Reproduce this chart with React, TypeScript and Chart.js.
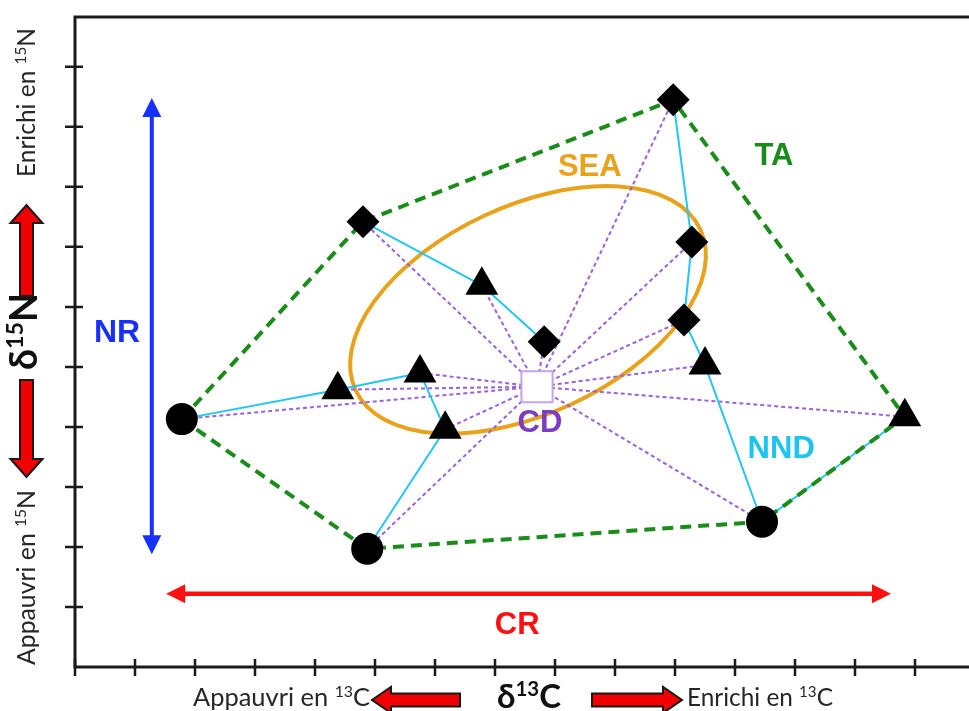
import React, { useEffect, useRef } from 'react';
import { Chart, registerables } from 'chart.js';

Chart.register(...registerables);

type P = { x: number; y: number };

// ---------- data (δ13C units on x, δ15N units on y) ----------
const circlePoints: P[] = [
  { x: 1.78, y: 4.13 },
  { x: 4.87, y: 1.97 },
  { x: 11.45, y: 2.42 },
];
const diamondPoints: P[] = [
  { x: 4.8, y: 7.42 },
  { x: 9.97, y: 9.45 },
  { x: 10.28, y: 7.08 },
  { x: 10.15, y: 5.78 },
  { x: 7.82, y: 5.42 },
];
const trianglePoints: P[] = [
  { x: 6.78, y: 6.36 },
  { x: 4.38, y: 4.62 },
  { x: 5.75, y: 4.9 },
  { x: 6.17, y: 3.96 },
  { x: 10.5, y: 5.03 },
  { x: 13.83, y: 4.17 },
];
const centroidPoint: P = { x: 7.7, y: 4.67 };

const xTickValues = [0, 1, 2, 3, 4, 5, 6, 7, 8, 9, 10, 11, 12, 13, 14];
const yTickValues = [1, 2, 3, 4, 5, 6, 7, 8, 9, 10];
const xMax = 14.9;
const yMax = 10.83;

// convex hull (TA) and nearest-neighbour links (NND)
const hullPath = ['C1', 'D1', 'D2', 'T6', 'C3', 'C2', 'C1'];
const nndLinks: [string, string][] = [
  ['C1', 'T2'], ['T2', 'T3'], ['T3', 'T4'], ['T4', 'C2'],
  ['D1', 'T1'], ['T1', 'D5'],
  ['D2', 'D3'], ['D3', 'D4'], ['D4', 'T5'], ['T5', 'C3'], ['C3', 'T6'],
];

// SEA ellipse (data units)
const seaCenter: P = { x: 7.55, y: 5.95 };
const seaSemiAxes = { a: 3.17, b: 1.73 };
const seaAngleDeg = 25;

// ranges
const nrX = 1.28;
const nrRange = [1.88, 9.48];
const crY = 1.22;
const crRange = [1.52, 13.6];

const named: Record<string, P> = {};
circlePoints.forEach((p, i) => (named['C' + (i + 1)] = p));
diamondPoints.forEach((p, i) => (named['D' + (i + 1)] = p));
trianglePoints.forEach((p, i) => (named['T' + (i + 1)] = p));
const allPoints: P[] = [...circlePoints, ...diamondPoints, ...trianglePoints];

// ---------- drawing helpers ----------
type Seg = { t: string; sup?: boolean };

function richWidth(ctx: CanvasRenderingContext2D, segs: Seg[], size: number, weight: string, family: string) {
  let w = 0;
  for (const s of segs) {
    ctx.font = `${weight} ${s.sup ? size * 0.62 : size}px ${family}`;
    w += ctx.measureText(s.t).width;
  }
  return w;
}

function drawRichFit(
  ctx: CanvasRenderingContext2D,
  segs: Seg[],
  targetWidth: number,
  weight: string,
  family: string,
  color: string
) {
  const base = 100;
  const w = richWidth(ctx, segs, base, weight, family);
  const size = (base * targetWidth) / w;
  let x = 0;
  ctx.fillStyle = color;
  ctx.textBaseline = 'alphabetic';
  ctx.textAlign = 'left';
  for (const s of segs) {
    const sz = s.sup ? size * 0.62 : size;
    ctx.font = `${weight} ${sz}px ${family}`;
    ctx.fillText(s.t, x, s.sup ? -size * 0.36 : 0);
    x += ctx.measureText(s.t).width;
  }
}

function drawDoubleArrow(
  ctx: CanvasRenderingContext2D,
  x1: number, y1: number, x2: number, y2: number,
  color: string, lw: number, headLen: number, headHalf: number
) {
  const ang = Math.atan2(y2 - y1, x2 - x1);
  const ux = Math.cos(ang), uy = Math.sin(ang);
  const nx = -uy, ny = ux;
  ctx.save();
  ctx.strokeStyle = color;
  ctx.fillStyle = color;
  ctx.lineWidth = lw;
  ctx.beginPath();
  ctx.moveTo(x1 + ux * headLen * 0.8, y1 + uy * headLen * 0.8);
  ctx.lineTo(x2 - ux * headLen * 0.8, y2 - uy * headLen * 0.8);
  ctx.stroke();
  const head = (tx: number, ty: number, dx: number, dy: number) => {
    ctx.beginPath();
    ctx.moveTo(tx, ty);
    ctx.lineTo(tx - dx * headLen + nx * headHalf, ty - dy * headLen + ny * headHalf);
    ctx.lineTo(tx - dx * headLen - nx * headHalf, ty - dy * headLen - ny * headHalf);
    ctx.closePath();
    ctx.fill();
  };
  head(x2, y2, ux, uy);
  head(x1, y1, -ux, -uy);
  ctx.restore();
}

function drawFatArrow(
  ctx: CanvasRenderingContext2D,
  tailX: number, tailY: number, tipX: number, tipY: number,
  shaftHalf: number, headHalf: number, headLen: number
) {
  const len = Math.hypot(tipX - tailX, tipY - tailY);
  const ang = Math.atan2(tipY - tailY, tipX - tailX);
  ctx.save();
  ctx.translate(tailX, tailY);
  ctx.rotate(ang);
  ctx.beginPath();
  ctx.moveTo(0, -shaftHalf);
  ctx.lineTo(len - headLen, -shaftHalf);
  ctx.lineTo(len - headLen, -headHalf);
  ctx.lineTo(len, 0);
  ctx.lineTo(len - headLen, headHalf);
  ctx.lineTo(len - headLen, shaftHalf);
  ctx.lineTo(0, shaftHalf);
  ctx.closePath();
  ctx.fillStyle = '#f00000';
  ctx.fill();
  ctx.lineWidth = 2;
  ctx.strokeStyle = '#1a1a1a';
  ctx.lineJoin = 'miter';
  ctx.stroke();
  ctx.restore();
}

const LABEL_FONT = '"Liberation Sans", Arial, sans-serif';
const AXIS_FONT = 'Lato, "Open Sans", sans-serif';

const decorPlugin = {
  id: 'decor',
  beforeDatasetsDraw(chart: any) {
    const ctx: CanvasRenderingContext2D = chart.ctx;
    const xs = chart.scales.x;
    const ys = chart.scales.y;
    // SEA ellipse
    const cx = xs.getPixelForValue(seaCenter.x);
    const cy = ys.getPixelForValue(seaCenter.y);
    const rx = xs.getPixelForValue(seaCenter.x + seaSemiAxes.a) - cx;
    const ry = cy - ys.getPixelForValue(seaCenter.y + seaSemiAxes.b);
    ctx.save();
    ctx.beginPath();
    ctx.ellipse(cx, cy, rx, ry, (-seaAngleDeg * Math.PI) / 180, 0, Math.PI * 2);
    ctx.strokeStyle = '#e9a21c';
    ctx.lineWidth = 4;
    ctx.stroke();
    ctx.restore();
  },
  afterDraw(chart: any) {
    const ctx: CanvasRenderingContext2D = chart.ctx;
    const xs = chart.scales.x;
    const ys = chart.scales.y;
    const area = chart.chartArea;
    const x0 = xs.getPixelForValue(0);
    const y0 = ys.getPixelForValue(0);

    ctx.save();
    // axes frame
    ctx.strokeStyle = '#1a1a1a';
    ctx.lineWidth = 3;
    ctx.lineCap = 'butt';
    ctx.beginPath();
    ctx.moveTo(area.right, area.top);
    ctx.lineTo(x0, area.top);
    ctx.lineTo(x0, y0);
    ctx.lineTo(area.right, y0);
    ctx.stroke();
    // ticks crossing axes
    ctx.lineWidth = 2.5;
    ctx.beginPath();
    for (const v of xTickValues) {
      const px = xs.getPixelForValue(v);
      ctx.moveTo(px, y0 - 8);
      ctx.lineTo(px, y0 + 9);
    }
    for (const v of yTickValues) {
      const py = ys.getPixelForValue(v);
      ctx.moveTo(x0 - 10, py);
      ctx.lineTo(x0 + 8, py);
    }
    ctx.stroke();
    ctx.restore();

    // NR and CR arrows
    drawDoubleArrow(
      ctx,
      xs.getPixelForValue(nrX), ys.getPixelForValue(nrRange[0]),
      xs.getPixelForValue(nrX), ys.getPixelForValue(nrRange[1]),
      '#1530ff', 4, 19, 9.5
    );
    drawDoubleArrow(
      ctx,
      xs.getPixelForValue(crRange[0]), ys.getPixelForValue(crY),
      xs.getPixelForValue(crRange[1]), ys.getPixelForValue(crY),
      '#ff1010', 4.5, 19, 9.5
    );

    // metric labels
    const label = (t: string, x: number, y: number, color: string, size: number) => {
      ctx.save();
      ctx.font = `bold ${size}px ${LABEL_FONT}`;
      ctx.fillStyle = color;
      ctx.textAlign = 'center';
      ctx.textBaseline = 'middle';
      ctx.fillText(t, xs.getPixelForValue(x), ys.getPixelForValue(y));
      ctx.restore();
    };
    label('NR', 0.7, 5.57, '#1530ff', 32);
    label('CR', 7.37, 0.7, '#ff1010', 31);
    label('SEA', 8.58, 8.32, '#e9a21c', 31);
    label('TA', 11.65, 8.5, '#1a8c1a', 31);
    label('CD', 7.75, 4.05, '#7d3cc0', 31);
    label('NND', 11.77, 3.62, '#1ec4f0', 31);

    // bottom axis title
    const dark = '#262626';
    ctx.save();
    ctx.translate(193, 706);
    drawRichFit(ctx, [{ t: 'Appauvri en ' }, { t: '13', sup: true }, { t: 'C' }], 177, 'normal', AXIS_FONT, dark);
    ctx.restore();
    ctx.save();
    ctx.translate(497, 708);
    drawRichFit(ctx, [{ t: 'δ' }, { t: '13', sup: true }, { t: 'C' }], 64, 'bold', AXIS_FONT, '#111');
    ctx.restore();
    ctx.save();
    ctx.translate(687, 706);
    drawRichFit(ctx, [{ t: 'Enrichi en ' }, { t: '13', sup: true }, { t: 'C' }], 146, 'normal', AXIS_FONT, dark);
    ctx.restore();
    drawFatArrow(ctx, 460, 700, 372, 700, 6.5, 13, 19);
    drawFatArrow(ctx, 592, 700, 682, 700, 6.5, 13, 19);

    // left axis title (rotated)
    const rot = (bx: number, by: number, segs: Seg[], w: number, weight: string, color: string) => {
      ctx.save();
      ctx.translate(bx, by);
      ctx.rotate(-Math.PI / 2);
      drawRichFit(ctx, segs, w, weight, AXIS_FONT, color);
      ctx.restore();
    };
    rot(35, 177, [{ t: 'Enrichi en ' }, { t: '15', sup: true }, { t: 'N' }], 149, 'normal', dark);
    rot(37, 370, [{ t: 'δ' }, { t: '15', sup: true }, { t: 'N' }], 77, 'bold', '#111');
    rot(35, 665, [{ t: 'Appauvri en ' }, { t: '15', sup: true }, { t: 'N' }], 175, 'normal', dark);
    drawFatArrow(ctx, 26.5, 296, 26.5, 205, 6.5, 16, 18);
    drawFatArrow(ctx, 26.5, 380, 26.5, 477, 6.5, 16, 18);
  },
};

export default function App() {
  const ref = useRef<HTMLCanvasElement | null>(null);

  useEffect(() => {
    document.body.style.margin = '0';
    document.body.style.overflow = 'hidden';
    if (!ref.current) return;

    const datasets: any[] = [];
    datasets.push({
      label: 'circles',
      data: circlePoints,
      pointStyle: 'circle',
      pointRadius: 16,
      backgroundColor: '#000',
      borderColor: '#000',
      borderWidth: 0,
      order: 0,
    });
    datasets.push({
      label: 'diamonds',
      data: diamondPoints,
      pointStyle: 'rectRot',
      pointRadius: 16.5,
      backgroundColor: '#000',
      borderColor: '#000',
      borderWidth: 0,
      order: 0,
    });
    datasets.push({
      label: 'triangles',
      data: trianglePoints,
      pointStyle: 'triangle',
      pointRadius: 19,
      backgroundColor: '#000',
      borderColor: '#000',
      borderWidth: 0,
      order: 0,
    });
    datasets.push({
      label: 'CD',
      data: [centroidPoint],
      pointStyle: 'rect',
      pointRadius: 22,
      backgroundColor: '#ffffff',
      borderColor: '#c7a4ea',
      borderWidth: 2,
      order: 1,
    });
    datasets.push({
      label: 'TA',
      data: hullPath.map((k) => named[k]),
      showLine: true,
      borderColor: '#1a8c1a',
      borderWidth: 4,
      borderDash: [11, 7],
      pointRadius: 0,
      order: 2,
    });
    nndLinks.forEach(([a, b]) =>
      datasets.push({
        label: 'NND',
        data: [named[a], named[b]],
        showLine: true,
        borderColor: '#22c6f0',
        borderWidth: 2,
        pointRadius: 0,
        order: 3,
      })
    );
    allPoints.forEach((p) =>
      datasets.push({
        label: 'CDlink',
        data: [centroidPoint, p],
        showLine: true,
        borderColor: '#9b61d8',
        borderWidth: 2,
        borderDash: [4, 3],
        pointRadius: 0,
        order: 4,
      })
    );

    const chart = new Chart(ref.current, {
      type: 'scatter',
      data: { datasets },
      options: {
        animation: false,
        responsive: false,
        maintainAspectRatio: false,
        devicePixelRatio: 1,
        events: [],
        layout: { autoPadding: false, padding: { left: 75, top: 17, right: 0, bottom: 44 } },
        plugins: { legend: { display: false }, tooltip: { enabled: false } },
        scales: {
          x: { type: 'linear', min: 0, max: xMax, display: false },
          y: { type: 'linear', min: 0, max: yMax, display: false },
        },
      } as any,
      plugins: [decorPlugin],
    });
    return () => chart.destroy();
  }, []);

  return (
    <div style={{ width: 969, height: 711, background: '#fff' }}>
      <canvas ref={ref} width={969} height={711} style={{ display: 'block' }} />
    </div>
  );
}
